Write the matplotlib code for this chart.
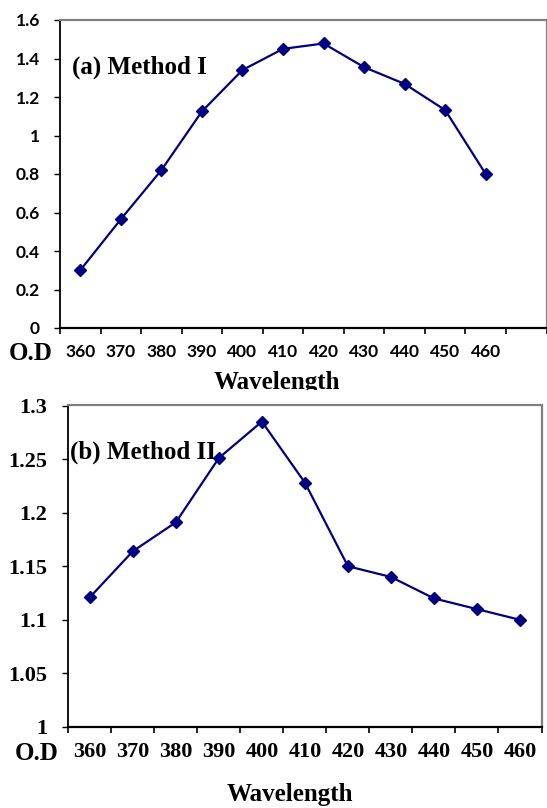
import numpy as np
import matplotlib
matplotlib.use('agg')
import matplotlib.pyplot as plt
from matplotlib.patches import Rectangle

# data
wavelength = [360, 370, 380, 390, 400, 410, 420, 430, 440, 450, 460]
od_method1 = [0.30, 0.565, 0.82, 1.125, 1.34, 1.45, 1.478, 1.355, 1.268, 1.132, 0.80]
od_method2 = [1.121, 1.164, 1.191, 1.251, 1.285, 1.228, 1.150, 1.140, 1.120, 1.110, 1.100]

yticks1 = [0, 0.2, 0.4, 0.6, 0.8, 1.0, 1.2, 1.4, 1.6]
ylabels1 = ['0', '0.2', '0.4', '0.6', '0.8', '1', '1.2', '1.4', '1.6']
yticks2 = [1.0, 1.05, 1.1, 1.15, 1.2, 1.25, 1.3]
ylabels2 = ['1', '1.05', '1.1', '1.15', '1.2', '1.25', '1.3']

W, H = 547, 808
navy = '#000080'
grey = '#808080'
serif = 'Liberation Serif'
sans = 'Lato'

fig = plt.figure(figsize=(W / 100, H / 100), dpi=100)


def px_axes(left, top, right, bottom):
    return fig.add_axes([left / W, (H - bottom) / H, (right - left) / W, (bottom - top) / H])


def style_axes(ax, nslots, yticks, ylabels, font, size, ypad, xpad):
    x = np.arange(len(wavelength))
    ax.set_xlim(-0.5, nslots - 0.5)
    # boundaries get the tick marks, centres get the labels
    ax.set_xticks(np.arange(nslots + 1) - 0.5)
    ax.set_xticklabels([])
    ax.set_xticks(x, minor=True)
    ax.set_xticklabels([str(w) for w in wavelength], minor=True,
                       fontfamily=font, fontweight='bold', fontsize=size)
    ax.tick_params(axis='x', which='major', direction='out', length=4, width=1.2, color='black')
    ax.tick_params(axis='x', which='minor', length=0, pad=xpad)
    ax.set_yticks(yticks)
    ax.set_yticklabels(ylabels, fontfamily=font, fontweight='bold', fontsize=size)
    ax.tick_params(axis='y', direction='out', length=4.5, width=1.0, pad=ypad)
    ax.spines['left'].set_color('black')
    ax.spines['left'].set_linewidth(1.3)
    ax.spines['bottom'].set_color('black')
    ax.spines['bottom'].set_linewidth(1.6)
    for s in ['top', 'right']:
        ax.spines[s].set_color(grey)
        ax.spines[s].set_linewidth(1.6)


# (a) Method I
ax1 = px_axes(60, 20, 546.5, 328)
ax1.plot(np.arange(len(wavelength)), od_method1, color=navy, lw=1.6,
         marker='D', markersize=6.5, clip_on=False)
ax1.set_ylim(0, 1.6)
style_axes(ax1, 12, yticks1, ylabels1, sans, 12.5, 10, 11.5)
fig.text(72 / W, (H - 67) / H, '(a) Method I', fontfamily=serif, fontweight='bold',
         fontsize=18, va='center', ha='left')

# (b) Method II
ax2 = px_axes(68.3, 405.5, 541.5, 727)
ax2.plot(np.arange(len(wavelength)), od_method2, color=navy, lw=1.6,
         marker='D', markersize=6.5, clip_on=False)
ax2.set_ylim(1.0, 1.3)
style_axes(ax2, 11, yticks2, ylabels2, serif, 16, 10.5, 11)
fig.text(70 / W, (H - 452) / H, '(b) Method II', fontfamily=serif, fontweight='bold',
         fontsize=18, va='center', ha='left')

# axis captions
fig.text(31 / W, (H - 353) / H, 'O.D', fontfamily=serif, fontweight='bold',
         fontsize=18, va='center', ha='center')
fig.text(37 / W, (H - 753) / H, 'O.D', fontfamily=serif, fontweight='bold',
         fontsize=18, va='center', ha='center')
fig.text(277 / W, (H - 388.5) / H, 'Wavelength', fontfamily=serif, fontweight='bold',
         fontsize=18, va='baseline', ha='center')
fig.text(290 / W, (H - 801) / H, 'Wavelength', fontfamily=serif, fontweight='bold',
         fontsize=18, va='baseline', ha='center')

# the first caption is cut off at its descenders in the original
fig.patches.append(Rectangle((150 / W, (H - 401) / H), 250 / W, 11.5 / H,
                             transform=fig.transFigure, facecolor='white',
                             edgecolor='none', zorder=5))

fig.savefig('out.png', dpi=100)
